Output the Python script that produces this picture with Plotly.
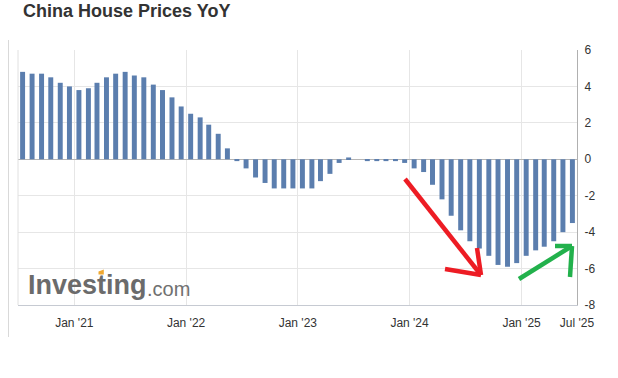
import plotly.graph_objects as go

# ---- data ----
months = [f"{y}-{m:02d}-16" for y in range(2020, 2026) for m in range(1, 13)
          if (y, m) >= (2020, 7) and (y, m) <= (2025, 6)]
yoy = [4.8, 4.7, 4.7, 4.5, 4.2, 4.0, 3.8, 3.9, 4.2, 4.5, 4.7, 4.8,
       4.6, 4.5, 4.1, 3.8, 3.4, 2.9, 2.5, 2.3, 1.9, 1.4, 0.6, -0.1,
       -0.5, -1.0, -1.3, -1.6, -1.6, -1.6, -1.6, -1.6, -1.2, -0.8, -0.2, 0.1,
       0.0, -0.1, -0.1, -0.1, -0.1, -0.2, -0.5, -0.7, -1.4, -2.2, -3.1, -3.9,
       -4.5, -4.9, -5.3, -5.8, -5.9, -5.7, -5.3, -5.0, -4.8, -4.5, -4.0, -3.5]
x_tick_vals = ["2021-01-01", "2022-01-01", "2023-01-01", "2024-01-01", "2025-01-01", "2025-07-01"]
x_tick_text = ["Jan '21", "Jan '22", "Jan '23", "Jan '24", "Jan '25", "Jul '25"]
y_tick_vals = [6, 4, 2, 0, -2, -4, -6, -8]
y_tick_text = ["6", "4", "2", "0", "-2", "-4", "-6", "-8"]

# ---- layout geometry (pixels) ----
W, H = 618, 378
L, R, T, B = 18, 41, 50, 73
PW, PH = W - L - R, H - T - B


def px(x):
    return (x - L) / PW


def py(y):
    return (H - B - y) / PH


FONT = "Liberation Sans, Arial, sans-serif"

fig = go.Figure()
fig.add_trace(go.Bar(
    x=months, y=yoy,
    width=[1.4e9] * len(months),
    marker=dict(color="#5b7eae", line=dict(width=0)),
    hoverinfo="x+y",
))

shapes = []
# outer frame line on the left
shapes.append(dict(type="line", xref="paper", yref="paper",
                   x0=px(8.5), x1=px(8.5), y0=py(40), y1=py(337),
                   line=dict(color="#d9d9d9", width=1)))
# plot left border
shapes.append(dict(type="line", xref="paper", yref="paper",
                   x0=0, x1=0, y0=0, y1=1,
                   line=dict(color="#e0e0e0", width=1)))

red = [((405, 179), (481, 275)), ((445, 269), (481, 275)), ((477, 248), (481, 275))]
green = [((519, 279), (572, 246)), ((555, 246), (572, 246)), ((570, 277), (572, 246))]
for segs, col in ((red, "#ed1c24"), (green, "#22b14c")):
    for (a, b) in segs:
        shapes.append(dict(type="line", xref="paper", yref="paper",
                           x0=px(a[0]), y0=py(a[1]), x1=px(b[0]), y1=py(b[1]),
                           line=dict(color=col, width=4.5)))

# small orange accent on the logo's "t"
ax = [98.5, 103.8, 103.8, 98.5]
ay = [274.5, 274.5, 269.5, 271.5]
shapes.append(dict(type="path", xref="paper", yref="paper",
                   path="M " + " L ".join(f"{px(a)} {py(b)}" for a, b in zip(ax, ay)) + " Z",
                   fillcolor="#f0a830", line=dict(width=0)))

annotations = [
    dict(text="<b>China House Prices YoY</b>", xref="paper", yref="paper",
         x=px(21), y=py(11), xanchor="left", yanchor="middle", showarrow=False,
         font=dict(family=FONT, size=18, color="#333333")),
    dict(text="<b>Investing</b>", xref="paper", yref="paper",
         x=px(26), y=py(285), xanchor="left", yanchor="middle", showarrow=False,
         font=dict(family=FONT, size=27, color="#6b6b6b")),
    dict(text=".com", xref="paper", yref="paper",
         x=px(145), y=py(289), xanchor="left", yanchor="middle", showarrow=False,
         font=dict(family=FONT, size=20, color="#707070")),
]

fig.update_layout(
    width=W, height=H,
    margin=dict(l=L, r=R, t=T, b=B, pad=0),
    paper_bgcolor="white", plot_bgcolor="white",
    showlegend=False,
    font=dict(family=FONT, size=12, color="#333333"),
    shapes=shapes,
    annotations=annotations,
    xaxis=dict(type="date", range=["2020-07-01", "2025-07-01"],
               tickmode="array", tickvals=x_tick_vals, ticktext=x_tick_text,
               showgrid=True, gridcolor="#e6e6e6", gridwidth=1,
               showline=True, linecolor="#c6cad2", linewidth=1,
               ticks="", ticklabelstandoff=7,
               tickfont=dict(family=FONT, size=12, color="#333333"),
               zeroline=False, fixedrange=True),
    yaxis=dict(range=[-8, 6], side="right",
               tickmode="array", tickvals=y_tick_vals, ticktext=y_tick_text,
               showgrid=True, gridcolor="#e6e6e6", gridwidth=1,
               showline=True, linecolor="#b0b0b0", linewidth=1,
               zeroline=True, zerolinecolor="#b5b5b5", zerolinewidth=1,
               ticks="", ticklabelstandoff=4,
               tickfont=dict(family=FONT, size=12, color="#333333"),
               fixedrange=True),
)

fig.write_html("out.html", config={"displayModeBar": False},
               post_script="document.body.style.margin='0';document.body.style.overflow='hidden';")
